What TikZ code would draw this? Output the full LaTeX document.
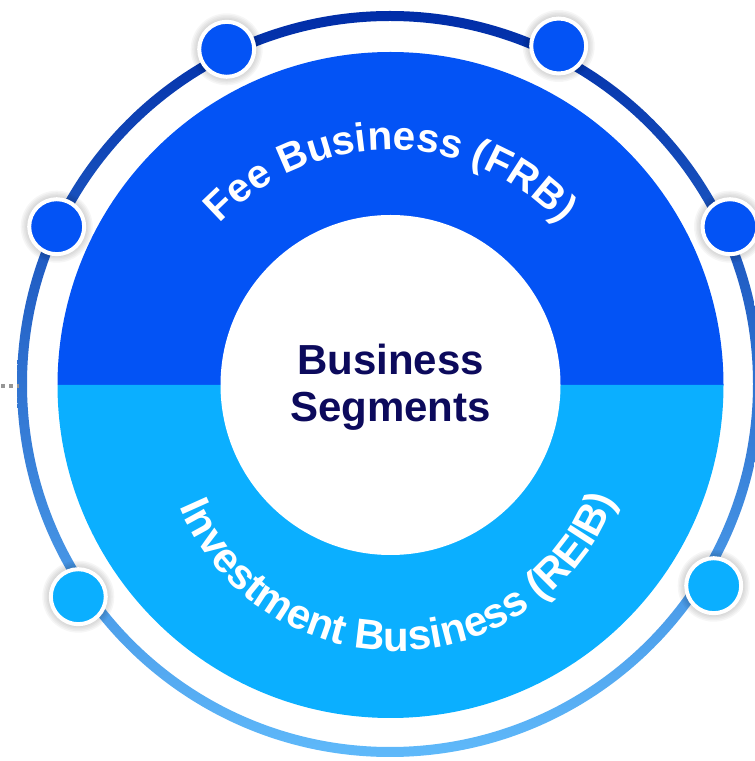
\documentclass[tikz,border=0pt]{standalone}
\usepackage{fontspec}
\setmainfont{Liberation Sans}
\usetikzlibrary{decorations.text}
\definecolor{topblue}{RGB}{3,83,245}
\definecolor{lowblue}{RGB}{11,175,255}
\definecolor{navy}{RGB}{12,10,92}
\definecolor{ringtop}{RGB}{0,45,168}
\definecolor{ringmid}{RGB}{0,78,225}
\definecolor{ringbot}{RGB}{95,185,250}
\definecolor{dotgray}{RGB}{150,150,150}
\tikzset{
  dotnode/.style={circle, minimum size=55pt, inner sep=0pt, draw=white, line width=4pt},
  hubtext/.style={font=\bfseries\fontsize{42pt}{47pt}\selectfont, text=navy, anchor=base, inner sep=0pt},
  arctext/.style={decorate, decoration={text along path, text align=center, text={#1}}}
}
\begin{document}
\begin{tikzpicture}[x=1pt,y=1pt]
\useasboundingbox (0,0) rectangle (755,761);
\coordinate (C) at (390.5,376);
\coordinate (R) at (390,377);
\coordinate (B) at (396,345);
% outer gradient ring
\shade[top color=ringtop, middle color=ringmid, bottom color=ringbot, even odd rule]
  (R) circle (373pt) (R) circle (363pt);
% gray dotted fragment on the left
\coordinate (g1) at (1,375.4);
\coordinate (g2) at (19,375.4);
\draw[dotgray, line width=4pt, dash pattern=on 4pt off 4pt] (g1) -- (g2);
% two halves of the disk
\fill[topblue] (C) ++(0:333pt) arc[start angle=0, end angle=180, radius=333pt] -- cycle;
\fill[lowblue] (C) ++(180:333pt) arc[start angle=180, end angle=360, radius=333pt] -- cycle;
% white hub
\node[circle, fill=white, minimum size=340pt, inner sep=0pt] (hub) at (C) {};
\node[hubtext] (t1) at (390.5,386) {Business};
\node[hubtext] (t2) at (390.5,339.3) {Segments};
% curved labels
\path[arctext={|\color{white}\bfseries\fontsize{40.5pt}{44pt}\selectfont|Fee Business (FRB)}]
  (C) ++(160:235pt) arc[start angle=160, end angle=20, radius=235pt];
\path[arctext={|\color{white}\bfseries\fontsize{42pt}{44pt}\selectfont|Investment Business (REIB)}]
  (B) ++(181:235pt) arc[start angle=181, end angle=361, radius=235pt];
% dots
\coordinate (p1) at (226.7,711.7);
\coordinate (p2) at (558.7,715);
\coordinate (p3) at (56.7,534.3);
\coordinate (p4) at (730,534.3);
\coordinate (p5) at (78.3,164.3);
\coordinate (p6) at (713.7,175.3);
\foreach \p in {p1,p2,p3,p4,p5,p6}{
  \foreach \r in {30,31.5,33,34.5,36}{
    \fill[black, opacity=0.035] (\p) circle (\r pt);
  }
}
\node[dotnode, fill=topblue] (d1) at (p1) {};
\node[dotnode, fill=topblue] (d2) at (p2) {};
\node[dotnode, fill=topblue] (d3) at (p3) {};
\node[dotnode, fill=topblue] (d4) at (p4) {};
\node[dotnode, fill=lowblue] (d5) at (p5) {};
\node[dotnode, fill=lowblue] (d6) at (p6) {};
\end{tikzpicture}
\end{document}
